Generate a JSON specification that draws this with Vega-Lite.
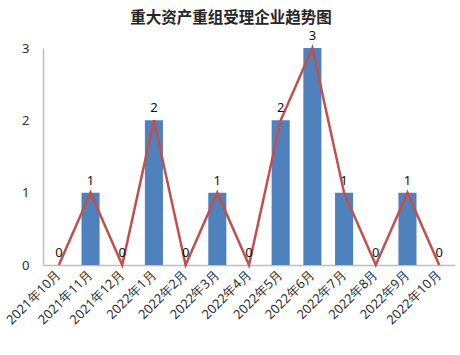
{
  "$schema": "https://vega.github.io/schema/vega-lite/v6.json",
  "width": 412,
  "height": 217,
  "autosize": {"type": "none"},
  "padding": {"left": 43, "top": 48, "right": 5, "bottom": 90},
  "background": "white",
  "title": {
    "text": "重大资产重组受理企业趋势图",
    "font": "Noto Sans CJK SC",
    "fontSize": 15.5,
    "fontWeight": "bold",
    "color": "#262626",
    "anchor": "middle",
    "dx": -18,
    "offset": 4
  },
  "config": {
    "view": {"stroke": null},
    "axis": {"labelFont": "Noto Sans CJK SC", "labelFontSize": 12, "labelColor": "#303030", "domainColor": "#BFBFBF", "ticks": false, "grid": false, "title": null}
  },
  "data": {
    "values": [
      {"month": "2021年10月", "count": 0},
      {"month": "2021年11月", "count": 1},
      {"month": "2021年12月", "count": 0},
      {"month": "2022年1月", "count": 2},
      {"month": "2022年2月", "count": 0},
      {"month": "2022年3月", "count": 1},
      {"month": "2022年4月", "count": 0},
      {"month": "2022年5月", "count": 2},
      {"month": "2022年6月", "count": 3},
      {"month": "2022年7月", "count": 1},
      {"month": "2022年8月", "count": 0},
      {"month": "2022年9月", "count": 1},
      {"month": "2022年10月", "count": 0}
    ]
  },
  "encoding": {
    "x": {
      "field": "month",
      "type": "nominal",
      "sort": null,
      "scale": {"paddingInner": 0.43, "paddingOuter": 0.215},
      "axis": {"labelAngle": -45, "labelAlign": "right", "labelBaseline": "middle", "labelPadding": 7, "labelFontSize": 13, "labelFont": "Noto Sans", "domainWidth": 1.5}
    },
    "y": {
      "field": "count",
      "type": "quantitative",
      "scale": {"domain": [0, 3], "nice": false},
      "axis": {"values": [0, 1, 2, 3], "labelPadding": 14, "labelFont": "Noto Sans", "labelFontSize": 13, "domainWidth": 1.5}
    }
  },
  "layer": [
    {"mark": {"type": "bar", "color": "#4F81BD"}},
    {"mark": {"type": "line", "color": "#C0504D", "strokeWidth": 2.5}},
    {"mark": {"type": "text", "dy": -12, "font": "Noto Sans", "fontSize": 13, "color": "#111111"}, "encoding": {"text": {"field": "count", "type": "quantitative"}}}
  ]
}
